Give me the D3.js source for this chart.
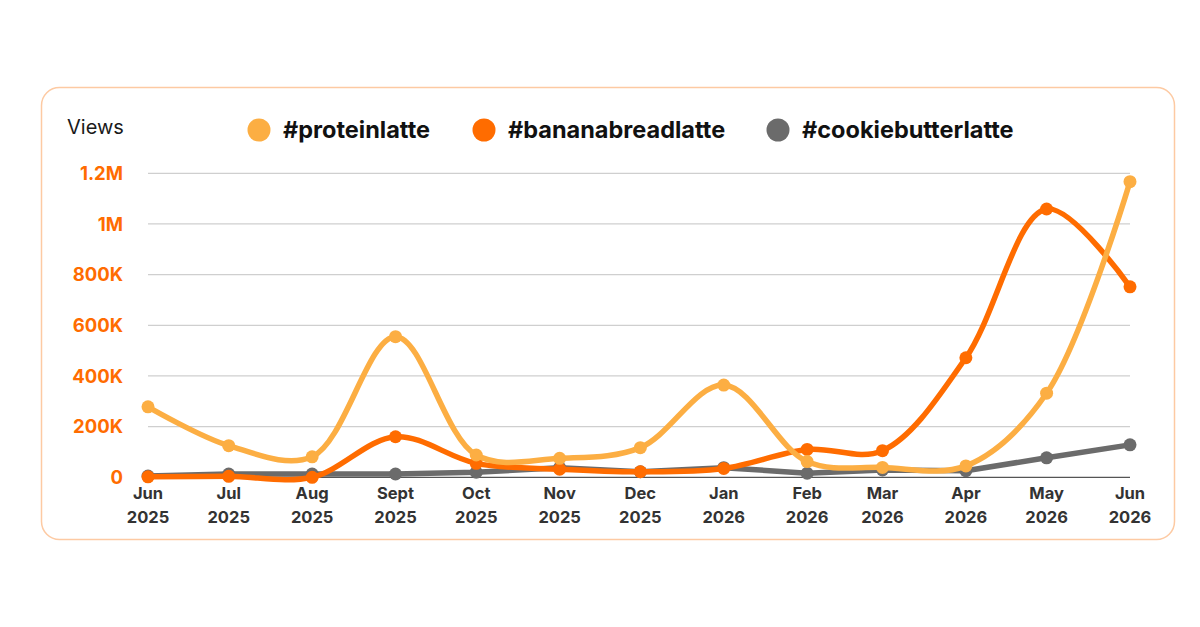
<!DOCTYPE html>
<html>
<head>
<meta charset="utf-8">
<script src="https://cdn.jsdelivr.net/npm/d3@7"></script>
<style>
  html, body { margin: 0; padding: 0; background: #fff; }
  svg { display: block; font-family: Inter, "Open Sans", sans-serif; }
</style>
</head>
<body>
<div id="chart"></div>
<script>
// months (first of each month), Jun 2025 .. Jun 2026
var months = ["2025-06","2025-07","2025-08","2025-09","2025-10","2025-11","2025-12",
              "2026-01","2026-02","2026-03","2026-04","2026-05","2026-06"];
var monthLabels = ["Jun","Jul","Aug","Sept","Oct","Nov","Dec","Jan","Feb","Mar","Apr","May","Jun"];
var yearLabels = ["2025","2025","2025","2025","2025","2025","2025","2026","2026","2026","2026","2026","2026"];

var proteinLatte = [278000,125000,81000,555000,88000,75000,117000,364000,62000,39000,45000,332000,1167000];
var bananaBreadLatte = [2000,4000,0,160000,55000,32000,22000,35000,110000,105000,472000,1059000,752000];
var cookieButterLatte = [5000,13000,13000,13000,20000,38000,22000,38000,16000,29000,26000,77000,128000];

var seriesNames = ["#proteinlatte","#bananabreadlatte","#cookiebutterlatte"];
var yTicks = [0,200000,400000,600000,800000,1000000,1200000];
var yTickLabels = ["0","200K","400K","600K","800K","1M","1.2M"];

var width = 1200, height = 627;
var colors = ["#fcae43","#ff6c00","#6b6b6b"];

var svg = d3.select("#chart").append("svg")
    .attr("width", width)
    .attr("height", height);

// card
svg.append("rect")
    .attr("x", 41.5).attr("y", 87.5)
    .attr("width", 1133).attr("height", 452)
    .attr("rx", 18)
    .attr("fill", "#fff")
    .attr("stroke", "#fdcaa3")
    .attr("stroke-width", 1.5);

var parseMonth = d3.timeParse("%Y-%m");
var dates = months.map(parseMonth);

var x = d3.scaleTime()
    .domain(d3.extent(dates))
    .range([148, 1130]);

var y = d3.scaleLinear()
    .domain([0, 1200000])
    .range([477.3, 173.3]);

// gridlines
svg.append("g").selectAll("line")
    .data(yTicks)
  .enter().append("line")
    .attr("x1", 148).attr("x2", 1130)
    .attr("y1", function(d) { return y(d); })
    .attr("y2", function(d) { return y(d); })
    .attr("stroke", function(d) { return d === 0 ? "#555" : "#cfcfcf"; })
    .attr("stroke-width", 1.2);

// y tick labels
svg.append("g").selectAll("text")
    .data(yTicks)
  .enter().append("text")
    .attr("x", 123)
    .attr("y", function(d) { return y(d); })
    .attr("dy", "0.36em")
    .attr("text-anchor", "end")
    .attr("fill", "#ff6c00")
    .style("font-size", "18.5px")
    .style("font-weight", "700")
    .text(function(d, i) { return yTickLabels[i]; });

svg.append("text")
    .attr("x", 67).attr("y", 134)
    .attr("fill", "#1a1a1a")
    .style("font-size", "20px")
    .text("Views");

// x tick labels (two lines)
var xl = svg.append("g").selectAll("text")
    .data(dates)
  .enter().append("text")
    .attr("text-anchor", "middle")
    .attr("fill", "#333")
    .style("font-size", "16.5px")
    .style("font-weight", "700");
xl.append("tspan")
    .attr("x", function(d) { return x(d); })
    .attr("y", 499)
    .text(function(d, i) { return monthLabels[i]; });
xl.append("tspan")
    .attr("x", function(d) { return x(d); })
    .attr("y", 523)
    .text(function(d, i) { return yearLabels[i]; });

// legend
var legendX = [259, 484, 778];
var legend = svg.append("g").selectAll("g")
    .data(seriesNames)
  .enter().append("g")
    .attr("transform", function(d, i) { return "translate(" + legendX[i] + ",130)"; });
legend.append("circle")
    .attr("r", 11.5)
    .attr("fill", function(d, i) { return colors[i]; });
legend.append("text")
    .attr("x", 24)
    .attr("dy", "0.36em")
    .attr("fill", "#111")
    .style("font-size", "23.5px")
    .style("font-weight", "700")
    .text(function(d) { return d; });

// lines
var series = [proteinLatte, bananaBreadLatte, cookieButterLatte];
var curves = [d3.curveCatmullRom.alpha(0.5), d3.curveCatmullRom.alpha(0.5), d3.curveLinear];
var drawOrder = [2, 1, 0];

drawOrder.forEach(function(s) {
  var line = d3.line()
      .x(function(d, i) { return x(dates[i]); })
      .y(function(d) { return y(d); })
      .curve(curves[s]);

  var g = svg.append("g");
  g.append("path")
      .datum(series[s])
      .attr("d", line)
      .attr("fill", "none")
      .attr("stroke", colors[s])
      .attr("stroke-width", 5.5)
      .attr("stroke-linejoin", "round");

  g.selectAll("circle")
      .data(series[s])
    .enter().append("circle")
      .attr("cx", function(d, i) { return x(dates[i]); })
      .attr("cy", function(d) { return y(d); })
      .attr("r", 6.5)
      .attr("fill", colors[s]);
});
</script>
</body>
</html>
